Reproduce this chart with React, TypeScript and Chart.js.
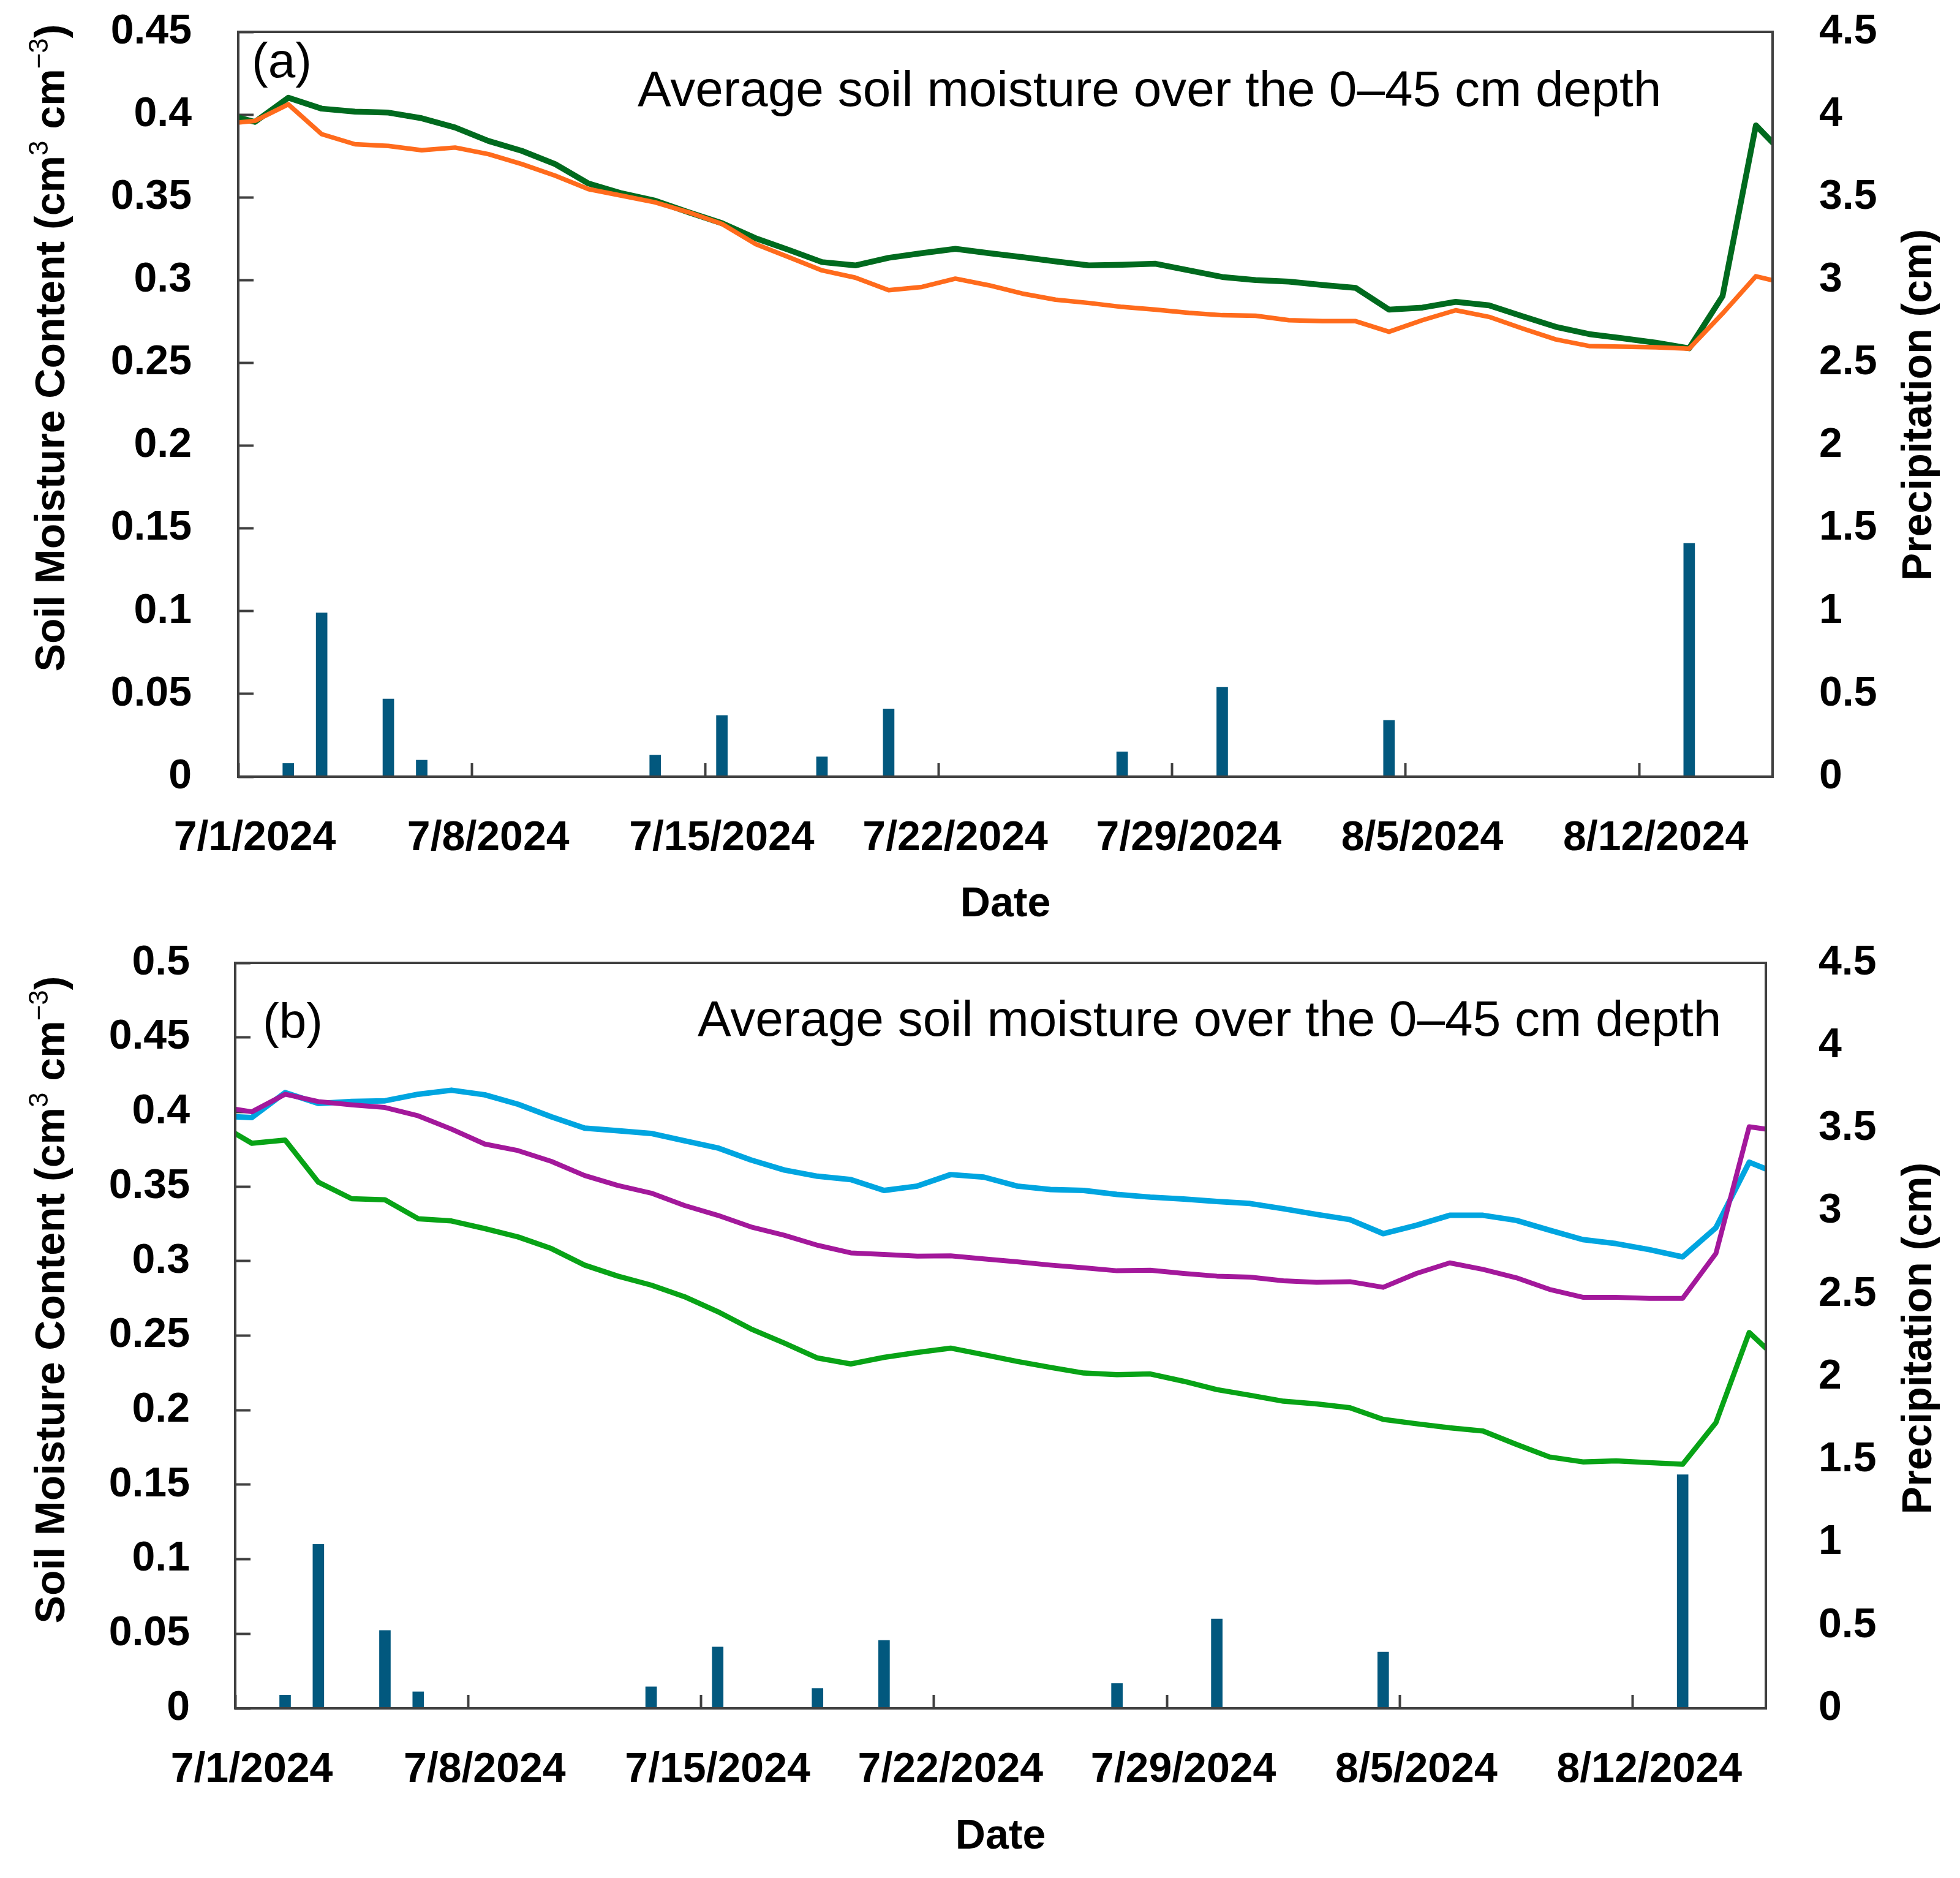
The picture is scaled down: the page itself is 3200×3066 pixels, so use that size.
import { useEffect, useRef } from "react";
import { Chart, registerables } from "chart.js";

Chart.register(...registerables);

// daily values from 6/30/2024 to 8/16/2024 (first and last day sit just outside the axis)
const tickDays = [0, 7, 14, 21, 28, 35, 42];
const tickLabels = ["7/1/2024", "7/8/2024", "7/15/2024", "7/22/2024", "7/29/2024", "8/5/2024", "8/12/2024"];

const precipitation = [
  0, 0, 0.08, 0.99, 0, 0.47, 0.1, 0, 0, 0, 0, 0, 0, 0.13, 0, 0.37, 0, 0, 0.12, 0, 0.41, 0, 0, 0,
  0, 0, 0, 0.15, 0, 0, 0.54, 0, 0, 0, 0, 0.34, 0, 0, 0, 0, 0, 0, 0, 0, 1.41, 0, 0, 0,
];

// panel (a)
const soilA_green = [
  0.4008, 0.3956, 0.4102, 0.4036, 0.4018, 0.4012, 0.3978, 0.3922, 0.3841, 0.3781, 0.3701, 0.3584,
  0.3524, 0.348, 0.341, 0.3344, 0.3254, 0.3183, 0.3109, 0.3089, 0.3135, 0.3163, 0.3189, 0.3163,
  0.3139, 0.3113, 0.3089, 0.3093, 0.3099, 0.3059, 0.3019, 0.3, 0.2991, 0.2971, 0.2953, 0.2822,
  0.2834, 0.2869, 0.2848, 0.2782, 0.2718, 0.2674, 0.2649, 0.2622, 0.2588, 0.2903, 0.3935, 0.3727,
];
const soilA_orange = [
  0.3942, 0.3962, 0.4062, 0.3882, 0.3821, 0.3811, 0.3785, 0.3801, 0.3761, 0.3701, 0.3631, 0.355,
  0.351, 0.347, 0.341, 0.334, 0.3219, 0.3139, 0.3059, 0.3015, 0.2939, 0.2959, 0.3009, 0.2969,
  0.2919, 0.2882, 0.2862, 0.2838, 0.2822, 0.2802, 0.2788, 0.2785, 0.2758, 0.2752, 0.2752, 0.2688,
  0.2758, 0.2818, 0.2778, 0.2708, 0.2642, 0.2602, 0.2598, 0.2594, 0.2586, 0.2798, 0.3023, 0.2975,
];

// panel (b)
const soilB_cyan = [
  0.3973, 0.3963, 0.413, 0.4057, 0.407, 0.4075, 0.4119, 0.4146, 0.4115, 0.4052, 0.3968, 0.3892,
  0.3874, 0.3856, 0.3807, 0.3759, 0.3678, 0.3611, 0.3569, 0.3547, 0.3474, 0.3503, 0.358, 0.3563,
  0.3503, 0.348, 0.3474, 0.3447, 0.3429, 0.3416, 0.34, 0.3386, 0.3351, 0.3313, 0.3278, 0.3184,
  0.324, 0.3307, 0.3307, 0.3273, 0.3207, 0.3144, 0.3117, 0.3077, 0.3028, 0.3224, 0.3663, 0.3573,
];
const soilB_magenta = [
  0.4037, 0.4001, 0.4119, 0.407, 0.4048, 0.403, 0.3974, 0.3885, 0.3785, 0.3741, 0.3669, 0.3574,
  0.3507, 0.3456, 0.3373, 0.3307, 0.3229, 0.3173, 0.3106, 0.3055, 0.3044, 0.3033, 0.3035, 0.3015,
  0.2995, 0.2973, 0.2955, 0.2935, 0.2939, 0.2917, 0.2899, 0.2892, 0.2868, 0.2857, 0.2862, 0.2824,
  0.2917, 0.2988, 0.2944, 0.2888, 0.281, 0.2757, 0.2757, 0.275, 0.275, 0.3051, 0.3901, 0.3869,
];
const soilB_green = [
  0.3922, 0.379, 0.3812, 0.3529, 0.3418, 0.3411, 0.3284, 0.3269, 0.3218, 0.3162, 0.3084, 0.2973,
  0.2899, 0.2839, 0.2761, 0.2661, 0.2545, 0.245, 0.235, 0.231, 0.2354, 0.2387, 0.2416, 0.2372,
  0.2327, 0.2287, 0.2249, 0.2238, 0.2243, 0.2194, 0.2138, 0.21, 0.206, 0.2042, 0.2016, 0.1938,
  0.1909, 0.1882, 0.186, 0.1771, 0.1686, 0.1653, 0.166, 0.1648, 0.1637, 0.1916, 0.2521, 0.2311,
];

const leftTicksA = [0, 0.05, 0.1, 0.15, 0.2, 0.25, 0.3, 0.35, 0.4, 0.45];
const leftTicksB = [0, 0.05, 0.1, 0.15, 0.2, 0.25, 0.3, 0.35, 0.4, 0.45, 0.5];
const rightTicks = [0, 0.5, 1, 1.5, 2, 2.5, 3, 3.5, 4, 4.5];

const NOTE = "Average soil moisture over the 0\u201345 cm depth";
const RIGHT_TITLE = "Precipitation (cm)";
const LEFT_TITLE: [string, boolean][] = [
  ["Soil Moisture Content (cm", false],
  ["3", true],
  [" cm", false],
  ["\u22123", true],
  [")", false],
];

const FONT = '"Liberation Sans", Arial, sans-serif';
const AXIS = "#404040";
const BAR = "#02587e";
const W = 3200;

const fmt = (v: number | string) => String(Number(Number(v).toFixed(2)));

type Series = { data: number[]; color: string; width: number };
type PanelCfg = {
  top: number;
  height: number;
  area: { left: number; top: number; right: number; bottom: number };
  leftMax: number;
  leftTicks: number[];
  leftGap: number;
  rightGap: number;
  series: Series[];
  tag: string;
  tagX: number;
  tagY: number;
  noteX: number;
  noteY: number;
  leftTitleY: number;
  rightTitleY: number;
};

const panelA: PanelCfg = {
  top: 0,
  height: 1520,
  area: { left: 389, top: 52, right: 2894, bottom: 1268 },
  leftMax: 0.45,
  leftTicks: leftTicksA,
  leftGap: 76,
  rightGap: 76,
  series: [
    { data: soilA_orange, color: "#ff6b1c", width: 7.5 },
    { data: soilA_green, color: "#006a1e", width: 9.5 },
  ],
  tag: "(a)",
  tagX: 411,
  tagY: 126,
  noteX: 1041,
  noteY: 173,
  leftTitleY: 568,
  rightTitleY: 661,
};

const panelB: PanelCfg = {
  top: 1520,
  height: 1522,
  area: { left: 384, top: 52, right: 2883, bottom: 1269 },
  leftMax: 0.5,
  leftTicks: leftTicksB,
  leftGap: 74,
  rightGap: 86,
  series: [
    { data: soilB_green, color: "#08a316", width: 8.5 },
    { data: soilB_magenta, color: "#a3189b", width: 8 },
    { data: soilB_cyan, color: "#00a5e0", width: 9 },
  ],
  tag: "(b)",
  tagX: 429,
  tagY: 174,
  noteX: 1139,
  noteY: 171,
  leftTitleY: 602,
  rightTitleY: 665,
};

const panelDecor = {
  id: "panelDecor",
  afterDatasetsDraw(chart: Chart, _args: unknown, opts: any) {
    const { ctx, chartArea: a } = chart;
    ctx.save();
    ctx.strokeStyle = AXIS;
    ctx.lineWidth = 4;
    ctx.strokeRect(a.left, a.top, a.right - a.left, a.bottom - a.top);

    ctx.fillStyle = "#000";
    ctx.textAlign = "left";
    ctx.textBaseline = "alphabetic";
    ctx.font = `80px ${FONT}`;
    ctx.fillText(opts.tag, opts.tagX, opts.tagY);
    ctx.font = `82px ${FONT}`;
    ctx.fillText(NOTE, opts.noteX, opts.noteY);

    // left title with superscripts, reading bottom to top
    const fonts = LEFT_TITLE.map(([, sup]) => (sup ? `44px ${FONT}` : `bold 68px ${FONT}`));
    const widths = LEFT_TITLE.map(([t], i) => {
      ctx.font = fonts[i];
      return ctx.measureText(t).width;
    });
    const total = widths.reduce((s, w) => s + w, 0);
    ctx.save();
    ctx.translate(105, opts.leftTitleY);
    ctx.rotate(-Math.PI / 2);
    let x = -total / 2;
    LEFT_TITLE.forEach(([t, sup], i) => {
      ctx.font = fonts[i];
      ctx.fillText(t, x, sup ? -27 : 0);
      x += widths[i];
    });
    ctx.restore();

    ctx.translate(3153, opts.rightTitleY);
    ctx.rotate(-Math.PI / 2);
    ctx.textAlign = "center";
    ctx.font = `bold 68px ${FONT}`;
    ctx.fillText(RIGHT_TITLE, 0, 0);
    ctx.restore();
  },
};

// keep the label paddings from pushing the plot area around
const noPad = (s: any) => {
  s.paddingTop = 0;
  s.paddingBottom = 0;
  s.paddingLeft = 0;
  s.paddingRight = 0;
};

function Panel({ cfg }: { cfg: PanelCfg }) {
  const canvasRef = useRef<HTMLCanvasElement>(null);

  useEffect(() => {
    if (!canvasRef.current) return;
    const bold = { family: FONT, size: 68, weight: "bold" as const };
    const { area } = cfg;

    const chart = new Chart(canvasRef.current, {
      type: "line",
      data: {
        datasets: [
          ...cfg.series.map((s) => ({
            type: "line" as const,
            data: s.data.map((v, k) => ({ x: k - 0.5, y: v })),
            borderColor: s.color,
            borderWidth: s.width,
            borderJoinStyle: "round" as const,
            pointRadius: 0,
            tension: 0,
            clip: 0,
            yAxisID: "y",
            order: 0,
          })),
          {
            type: "bar" as const,
            data: precipitation.map((v, k) => ({ x: k - 0.5, y: v })),
            backgroundColor: BAR,
            barThickness: 18,
            yAxisID: "y1",
            order: 1,
          },
        ],
      } as any,
      options: {
        animation: false,
        responsive: true,
        maintainAspectRatio: false,
        layout: { padding: { top: area.top, left: 0, right: 0, bottom: 0 } },
        plugins: {
          legend: { display: false },
          tooltip: { enabled: false },
          panelDecor: {
            tag: cfg.tag,
            tagX: cfg.tagX,
            tagY: cfg.tagY,
            noteX: cfg.noteX,
            noteY: cfg.noteY,
            leftTitleY: cfg.leftTitleY,
            rightTitleY: cfg.rightTitleY,
          },
        } as any,
        scales: {
          x: {
            type: "linear",
            min: 0,
            max: 46,
            offset: false,
            afterBuildTicks: (s: any) => {
              s.ticks = tickDays.map((value) => ({ value }));
            },
            afterFit: (s: any) => {
              s.height = cfg.height - area.bottom;
              noPad(s);
            },
            border: { display: false },
            grid: {
              offset: false,
              drawOnChartArea: false,
              drawTicks: true,
              tickLength: -22,
              tickWidth: 4,
              color: AXIS,
            },
            ticks: {
              font: bold,
              color: "#000",
              padding: 82,
              labelOffset: 27,
              maxRotation: 0,
              autoSkip: false,
              callback: (v: any) => tickLabels[tickDays.indexOf(Number(v))] ?? "",
            },
            title: { display: true, text: "Date", font: bold, color: "#000", padding: { top: 0, bottom: 2 } },
          },
          y: {
            position: "left",
            min: 0,
            max: cfg.leftMax,
            afterBuildTicks: (s: any) => {
              s.ticks = cfg.leftTicks.map((value) => ({ value }));
            },
            afterFit: (s: any) => {
              s.width = area.left;
              noPad(s);
            },
            border: { display: false },
            grid: { drawOnChartArea: false, drawTicks: true, tickLength: -25, tickWidth: 4, color: AXIS },
            ticks: { font: bold, color: "#000", padding: cfg.leftGap + 25, callback: fmt as any },
          },
          y1: {
            position: "right",
            min: 0,
            max: 4.5,
            afterBuildTicks: (s: any) => {
              s.ticks = rightTicks.map((value) => ({ value }));
            },
            afterFit: (s: any) => {
              s.width = W - area.right;
              noPad(s);
            },
            border: { display: false },
            grid: { display: false, drawTicks: false },
            ticks: { font: bold, color: "#000", padding: cfg.rightGap, callback: fmt as any },
          },
        },
      } as any,
      plugins: [panelDecor],
    });

    return () => {
      chart.destroy();
    };
  }, [cfg]);

  return (
    <div style={{ position: "absolute", left: 0, top: cfg.top, width: W, height: cfg.height }}>
      <canvas ref={canvasRef} />
    </div>
  );
}

export default function App() {
  return (
    <div style={{ position: "absolute", left: 0, top: 0, width: W, height: 3066, background: "#fff" }}>
      <Panel cfg={panelA} />
      <Panel cfg={panelB} />
    </div>
  );
}
